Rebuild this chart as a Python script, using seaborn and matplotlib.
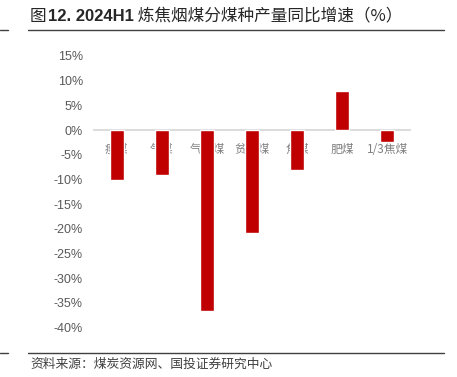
import matplotlib
matplotlib.use("Agg")
import matplotlib.pyplot as plt
import seaborn as sns
import pandas as pd

categories = ["瘦煤", "气煤", "气肥煤", "贫瘦煤", "焦煤", "肥煤", "1/3焦煤"]
values = [-10.2, -9.1, -36.6, -20.8, -8.0, 7.9, -2.5]
yticks = [-40, -35, -30, -25, -20, -15, -10, -5, 0, 5, 10, 15]
title_parts = ["图", "12. 2024H1", " 炼焦烟煤分煤种产量同比增速（%）"]
source = "资料来源：煤炭资源网、国投证券研究中心"

sns.set_theme(style="white")
plt.rcParams['font.family'] = ['Liberation Sans', 'Noto Sans CJK SC', 'DejaVu Sans']

W, H = 457, 377
fig = plt.figure(figsize=(W / 100, H / 100), dpi=100)
ax = fig.add_axes([94 / W, 1 - 327.5 / H, (410 - 94) / W, (327.5 - 56) / H])

df = pd.DataFrame({"cat": categories, "val": values})
sns.barplot(data=df, x="cat", y="val", color="#c00000", width=0.31, saturation=1,
            ax=ax, zorder=2)
ax.set_axisbelow(True)
ax.set_ylim(-40, 15)
ax.set_xlim(-0.5, len(categories) - 0.5)
ax.set_yticks(yticks)
ax.set_yticklabels([f"{v}%" for v in yticks], fontsize=9, color="#595959",
                   family="Liberation Sans")
ax.set_xlabel("")
ax.set_ylabel("")
for s in ["left", "right", "top"]:
    ax.spines[s].set_visible(False)
ax.spines["bottom"].set_position(("data", 0))
ax.spines["bottom"].set_color("#d9d9d9")
ax.spines["bottom"].set_linewidth(1.3)
ax.spines["bottom"].set_zorder(1)
ax.tick_params(axis="y", length=0, pad=8)
ax.tick_params(axis="x", length=0, pad=9)
for lab in ax.get_xticklabels():
    lab.set_family(["Noto Sans CJK SC"])
    lab.set_fontsize(8.5)
    lab.set_color("#808080")
ax.grid(False)

# title pieces
fig.canvas.draw()
r = fig.canvas.get_renderer()
ty = 1 - 21 / H
x = 30
styles = [dict(weight="normal", family=["Noto Sans CJK SC"]),
          dict(weight="bold", family=["Liberation Sans", "Noto Sans CJK SC"]),
          dict(weight="normal", family=["Noto Sans CJK SC"])]
for txt, st in zip(title_parts, styles):
    t = fig.text(x / W, ty, txt, fontsize=12, color="#262626", va="baseline",
                 ha="left", **st)
    bb = t.get_window_extent(r)
    x = bb.x1 + (1 if txt == "图" else 0)

# decorative lines
line_kw = dict(color="#404040", linewidth=1.0, transform=fig.transFigure)
for yy in (29.5, 353):
    fig.add_artist(plt.Line2D([28 / W, 444 / W], [1 - yy / H, 1 - yy / H], **line_kw))
    fig.add_artist(plt.Line2D([0, 8 / W], [1 - yy / H, 1 - yy / H], **line_kw))

fig.text(30 / W, 1 - 364 / H, source, fontsize=9.2, color="#404040",
         style="italic", va="center", ha="left", family=["Noto Sans CJK SC"])

fig.savefig("out.png", dpi=100)
